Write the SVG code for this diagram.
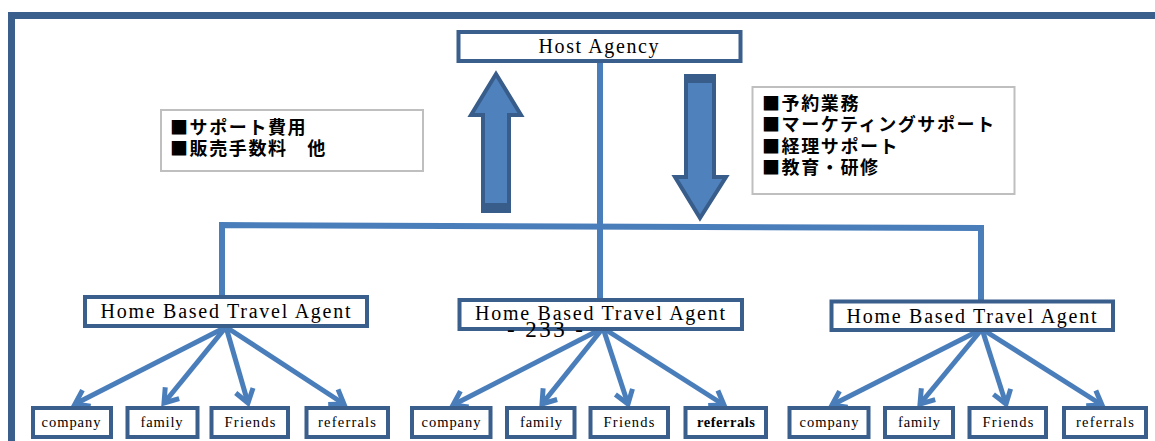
<svg xmlns="http://www.w3.org/2000/svg" width="1155" height="441" viewBox="0 0 1155 441">
  <style>
    .frame { fill: none; stroke: #3b5f8c; stroke-width: 7; }
    .box { fill: #ffffff; stroke: #3a5f8c; stroke-width: 4; }
    .note { fill: #ffffff; stroke: #bfbfbf; stroke-width: 2; }
    .trunk { fill: none; stroke: #4a7ebb; stroke-width: 6; }
    .edge { fill: none; stroke: #4a7ebb; stroke-width: 5; marker-end: url(#chev); }
    .block { fill: #4f81bd; stroke: #385d8a; stroke-width: 4; stroke-linejoin: miter; }
    .band { fill: #385d8a; }
    .lat { font-family: "Liberation Serif", "DejaVu Serif", serif; fill: #000000; text-anchor: middle; }
    .big { font-size: 20px; }
    .small { font-size: 14.5px; }
    .jp { font-family: "Noto Sans CJK JP", "Noto Sans CJK SC", sans-serif; font-size: 18px; font-weight: 700; fill: #000000; letter-spacing: 1.6px; }
  </style>
  <defs>
    <marker id="chev" markerUnits="userSpaceOnUse" markerWidth="30" markerHeight="30" viewBox="-20 -15 30 30" refX="0" refY="0" orient="auto">
      <path d="M-13,-9 L0,0 L-13,9" fill="none" stroke="#4a7ebb" stroke-width="5" stroke-linejoin="miter"/>
    </marker>
  </defs>

  <!-- page frame -->
  <rect class="frame" x="11.5" y="15.5" width="1200" height="500"/>

  <!-- tree connectors -->
  <g id="connectors">
    <line class="trunk" x1="600" y1="62" x2="600" y2="300"/>
    <polyline class="trunk" points="222,297 222,225 981,228 981,301"/>
    <!-- left agent -->
    <line class="edge" x1="226" y1="327" x2="75" y2="404"/>
    <line class="edge" x1="226" y1="327" x2="164" y2="403"/>
    <line class="edge" x1="226" y1="327" x2="248" y2="403"/>
    <line class="edge" x1="226" y1="327" x2="344" y2="404"/>
    <!-- middle agent -->
    <line class="edge" x1="603" y1="328" x2="453" y2="405"/>
    <line class="edge" x1="603" y1="328" x2="542" y2="404"/>
    <line class="edge" x1="603" y1="328" x2="628" y2="404"/>
    <line class="edge" x1="603" y1="328" x2="724" y2="405"/>
    <!-- right agent -->
    <line class="edge" x1="982" y1="329" x2="832" y2="405"/>
    <line class="edge" x1="982" y1="329" x2="920" y2="404"/>
    <line class="edge" x1="982" y1="329" x2="1006" y2="404"/>
    <line class="edge" x1="982" y1="329" x2="1102" y2="405"/>
  </g>

  <!-- flow arrows between host and agents -->
  <g id="flow-up">
    <polygon class="block" points="496,74 471,115 483,115 483,211 509,211 509,115 521,115"/>
    <rect class="band" x="481" y="203" width="30" height="9"/>
  </g>
  <g id="flow-down">
    <polygon class="block" points="686,76 714,76 714,177 726,177 700,218 675,177 686,177"/>
    <rect class="band" x="684" y="74" width="31" height="9"/>
  </g>

  <!-- notes -->
  <g id="note-fees">
    <rect class="note" x="161" y="110" width="262" height="61"/>
    <text class="jp" x="170" y="133.5">■サポート費用<tspan x="170" dy="21.5">■販売手数料　他</tspan></text>
  </g>
  <g id="note-services">
    <rect class="note" x="752.5" y="87" width="262" height="107"/>
    <text class="jp" x="762" y="110">■予約業務<tspan x="762" dy="21.3">■マーケティングサポート</tspan><tspan x="762" dy="21.3">■経理サポート</tspan><tspan x="762" dy="21.3">■教育・研修</tspan></text>
  </g>

  <!-- host -->
  <g id="host-agency">
    <rect class="box" x="458.5" y="32" width="282" height="29"/>
    <text class="lat big" x="598.5" y="53" textLength="120" lengthAdjust="spacing">Host Agency</text>
  </g>

  <!-- agents -->
  <g id="agent-left">
    <rect class="box" x="85" y="297" width="282" height="29"/>
    <text class="lat big" x="225.5" y="318" textLength="250" lengthAdjust="spacing">Home Based Travel Agent</text>
  </g>
  <g id="agent-middle">
    <rect class="box" x="459.5" y="300" width="282.5" height="29"/>
    <text class="lat big" x="600" y="320" textLength="250" lengthAdjust="spacing">Home Based Travel Agent</text>
  </g>
  <g id="agent-right">
    <rect class="box" x="831.5" y="301.5" width="281.5" height="28.5"/>
    <text class="lat big" x="971.5" y="322.5" textLength="250" lengthAdjust="spacing">Home Based Travel Agent</text>
  </g>

  <!-- clients, left agent -->
  <g id="left-company"><rect class="box" x="33" y="408" width="78" height="29"/><text class="lat small" x="71" y="427" textLength="59" lengthAdjust="spacing">company</text></g>
  <g id="left-family"><rect class="box" x="127.5" y="408" width="70" height="29"/><text class="lat small" x="161.5" y="427" textLength="42" lengthAdjust="spacing">family</text></g>
  <g id="left-friends"><rect class="box" x="211.5" y="408" width="76.5" height="29"/><text class="lat small" x="250" y="427" textLength="51" lengthAdjust="spacing">Friends</text></g>
  <g id="left-referrals"><rect class="box" x="306.5" y="408" width="81.5" height="29"/><text class="lat small" x="347" y="427" textLength="58" lengthAdjust="spacing">referrals</text></g>

  <!-- clients, middle agent -->
  <g id="middle-company"><rect class="box" x="412" y="408" width="78.5" height="29"/><text class="lat small" x="451" y="427" textLength="59" lengthAdjust="spacing">company</text></g>
  <g id="middle-family"><rect class="box" x="507" y="408" width="67.5" height="29"/><text class="lat small" x="541" y="427" textLength="42" lengthAdjust="spacing">family</text></g>
  <g id="middle-friends"><rect class="box" x="590.5" y="408" width="77.5" height="29"/><text class="lat small" x="629" y="427" textLength="51" lengthAdjust="spacing">Friends</text></g>
  <g id="middle-referrals"><rect class="box" x="685.5" y="408" width="80.5" height="29"/><text class="lat small" x="726" y="427" textLength="58" lengthAdjust="spacing" font-weight="700">referrals</text></g>

  <!-- clients, right agent -->
  <g id="right-company"><rect class="box" x="789.5" y="408" width="79" height="29"/><text class="lat small" x="829" y="427" textLength="59" lengthAdjust="spacing">company</text></g>
  <g id="right-family"><rect class="box" x="885" y="408" width="68" height="29"/><text class="lat small" x="919" y="427" textLength="42" lengthAdjust="spacing">family</text></g>
  <g id="right-friends"><rect class="box" x="969.5" y="408" width="76.5" height="29"/><text class="lat small" x="1008" y="427" textLength="51" lengthAdjust="spacing">Friends</text></g>
  <g id="right-referrals"><rect class="box" x="1064" y="408" width="82" height="29"/><text class="lat small" x="1105" y="427" textLength="58" lengthAdjust="spacing">referrals</text></g>

  <!-- page number -->
  <text class="lat" x="545" y="337" font-size="23" textLength="76" lengthAdjust="spacing">- 233 -</text>
</svg>
